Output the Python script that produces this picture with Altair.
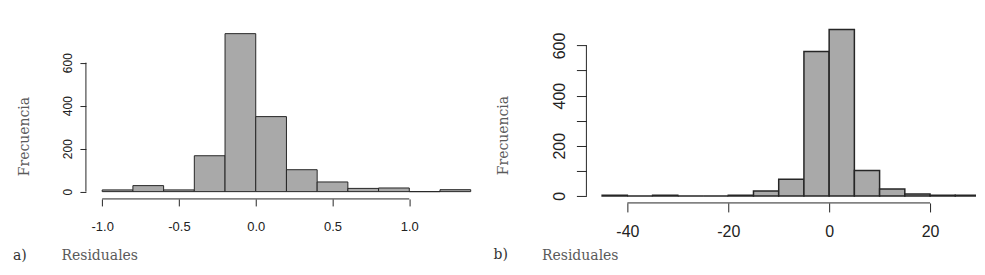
import altair as alt
import pandas as pd

# ---- data ----
a_bin_start = [-1.0, -0.8, -0.6, -0.4, -0.2, 0.0, 0.2, 0.4, 0.6, 0.8, 1.0, 1.2]
a_counts = [8, 28, 8, 167, 735, 349, 102, 45, 15, 17, 0, 9]
a_bin_width = 0.2
a_xticks = [-1.0, -0.5, 0.0, 0.5, 1.0]
a_yticks = [0, 200, 400, 600]

b_bin_start = [-45, -40, -35, -30, -25, -20, -15, -10, -5, 0, 5, 10, 15, 20, 25]
b_counts = [3, 0, 3, 0, 0, 3, 20, 66, 576, 664, 101, 28, 8, 3, 3]
b_bin_width = 5
b_xticks = [-40, -20, 0, 20]
b_yticks = [0, 100, 200, 300, 400, 500, 600]

y_title = "Frecuencia"
x_title = "Residuales"

TITLE_FONT = "DejaVu Serif"
BAR_FILL = "#a9a9a9"
BAR_STROKE = "#262626"
AXIS_COLOR = "#262626"
HYPHEN_EXPR = "replace(datum.label, '\u2212', '-')"


def make_panel(starts, counts, width, xticks, yticks, tag, xdom, ydom, w, h,
               xfmt, xlab_font, xlab_size, ylab_size, xtick, ytick, xpad, ypad,
               ytitle_x, ytitle_y, xtitle_x, xtitle_y, tag_x, tag_y,
               label_expr=None, stroke_w=1.0, clip=False):
    df = pd.DataFrame({
        "start": starts,
        "end": [s + width for s in starts],
        "count": counts,
        "base": [0] * len(starts),
    })
    xs = alt.Scale(domain=xdom, nice=False, zero=False)
    ys = alt.Scale(domain=ydom, nice=False, zero=False)

    yaxis_kw = dict(
        values=yticks, domain=False, grid=False, tickSize=ytick, tickColor=AXIS_COLOR,
        labelAngle=270, labelAlign="center", labelBaseline="bottom",
        labelFont="Liberation Sans", labelFontSize=ylab_size, labelColor="#222222",
        labelPadding=ypad, labelOverlap=False, labelFlush=False,
        title=y_title, titleFont=TITLE_FONT, titleFontSize=14, titleFontWeight="normal",
        titleColor="#5a5a5a", titleAngle=270, titleX=ytitle_x, titleY=ytitle_y,
        titleAlign="center", titleBaseline="middle",
    )
    if label_expr:
        yaxis_kw["labelExpr"] = label_expr
    yaxis = alt.Axis(**yaxis_kw)

    xaxis = alt.Axis(
        values=xticks, domain=False, grid=False, format=xfmt, tickSize=xtick,
        labelExpr=HYPHEN_EXPR,
        tickColor=AXIS_COLOR, labelFont=xlab_font, labelFontSize=xlab_size,
        labelColor="#222222", labelPadding=xpad, labelOverlap=False, labelFlush=False,
        title=x_title, titleFont=TITLE_FONT, titleFontSize=14, titleFontWeight="normal",
        titleColor="#5a5a5a", titleX=xtitle_x, titleY=xtitle_y, titleAlign="left",
        titleBaseline="alphabetic",
    )

    bars = alt.Chart(df).mark_rect(
        fill=BAR_FILL, stroke=BAR_STROKE, strokeWidth=stroke_w, clip=clip
    ).encode(
        x=alt.X("start:Q", scale=xs, axis=xaxis),
        x2="end:Q",
        y=alt.Y("count:Q", scale=ys, axis=yaxis),
        y2="base:Q",
    )

    xline = alt.Chart(pd.DataFrame({"x1": [xticks[0]], "x2": [xticks[-1]]})).mark_rule(
        color=AXIS_COLOR, strokeWidth=1
    ).encode(
        x=alt.X("x1:Q", scale=xs, axis=xaxis), x2="x2:Q", y=alt.value(h)
    )
    yline = alt.Chart(pd.DataFrame({"y1": [yticks[0]], "y2": [yticks[-1]]})).mark_rule(
        color=AXIS_COLOR, strokeWidth=1
    ).encode(
        y=alt.Y("y1:Q", scale=ys, axis=yaxis), y2="y2:Q", x=alt.value(0)
    )
    tag_txt = alt.Chart(pd.DataFrame({"t": [tag]})).mark_text(
        font=TITLE_FONT, fontSize=14, color="#333333", align="left", baseline="alphabetic"
    ).encode(x=alt.value(tag_x), y=alt.value(tag_y), text="t:N")

    return alt.layer(bars, xline, yline, tag_txt).properties(width=w, height=h)


panel_a = make_panel(
    a_bin_start, a_counts, a_bin_width, a_xticks, a_yticks, "a)",
    xdom=[-1.106, 1.4964], ydom=[-34, 784], w=400, h=176,
    xfmt=".1f", xlab_font="Liberation Sans Narrow, Liberation Sans", xlab_size=13,
    ylab_size=12, xtick=7, ytick=6, xpad=15, ypad=5,
    ytitle_x=-61, ytitle_y=113, xtitle_x=-25, xtitle_y=61, tag_x=-73, tag_y=237,
)

panel_b = make_panel(
    b_bin_start, b_counts, b_bin_width, b_xticks, b_yticks, "b)",
    xdom=[-48.12, 29.11], ydom=[-28, 689], w=390, h=180,
    xfmt="d", xlab_font="Liberation Sans", xlab_size=16,
    ylab_size=16, xtick=9, ytick=10, xpad=12, ypad=9,
    ytitle_x=-83, ytitle_y=112, xtitle_x=-45, xtitle_y=56.5, tag_x=-93, tag_y=236.5,
    label_expr="datum.value % 200 == 0 ? datum.label : ''", stroke_w=1.5, clip=True,
)

chart = alt.hconcat(panel_a, panel_b, spacing=101, bounds="flush").properties(
    padding={"left": 4, "top": 14, "right": 0, "bottom": 4},
    background="white",
).configure_view(stroke="transparent", fill="white")

chart.save("out.html", embed_options={"renderer": "svg", "actions": False})
